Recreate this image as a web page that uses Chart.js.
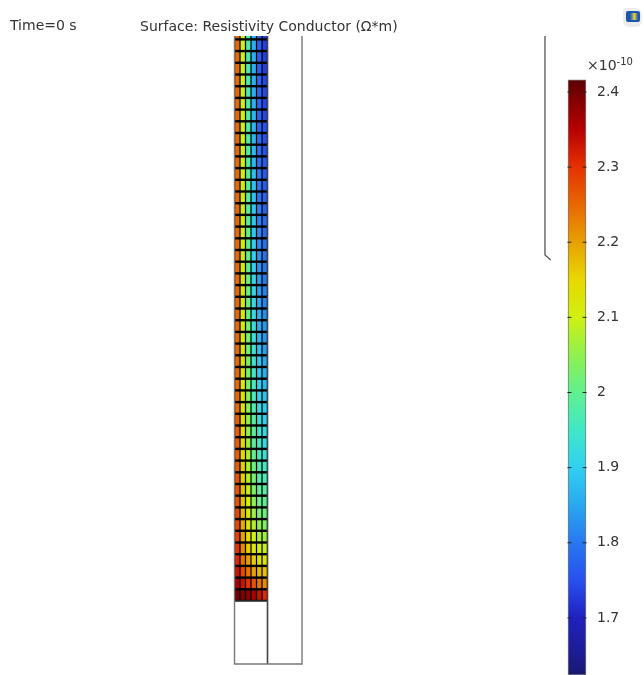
<!DOCTYPE html>
<html>
<head>
<meta charset="utf-8">
<title>Resistivity Conductor</title>
<script src="https://cdn.jsdelivr.net/npm/chart.js@4"></script>
<style>
  html, body { margin: 0; background: #fff; overflow: hidden; }
  #wrap { position: relative; width: 644px; height: 675px; overflow: hidden; }
  #plot { display: block; }
  .label { position: absolute; font: 14px "DejaVu Sans", sans-serif; color: #333; white-space: nowrap; line-height: 16px; }
  .label sup { font-size: 10px; line-height: 0; position: relative; vertical-align: baseline; top: -5px; }
  #logo { position: absolute; left: 623px; top: 8px; width: 19px; height: 19px; background: #ececec; border-radius: 3px 7px 6px 6px; }
  #logo div { position: absolute; left: 3px; top: 3px; width: 14px; height: 11px; border-radius: 2px; background: linear-gradient(90deg, #1c56b0 0 20%, #e4d23c 65%, #1c56b0 100%); border: 2px solid #1c56b0; box-sizing: border-box; }
</style>
</head>
<body>
<div id="wrap">
  <canvas id="plot" width="644" height="675"></canvas>
  <div class="label" style="left:10px;top:17px">Time=0 s</div>
  <div class="label" style="left:140px;top:18px">Surface: Resistivity Conductor (Ω*m)</div>
  <div class="label" style="left:587px;top:57px">×10<sup>-10</sup></div>
  <div id="logo"><div></div></div>
</div>
<script>
// resistivity of each conductor column (x1e-10 ohm m), bottom row first
const column1 = [2.40,2.36,2.33,2.31,2.30,2.29,2.28,2.28,2.27,2.27,
  2.27,2.26,2.26,2.26,2.26,2.26,2.25,2.25,2.25,2.25,
  2.25,2.25,2.25,2.25,2.25,2.25,2.25,2.25,2.25,2.25,
  2.25,2.25,2.25,2.25,2.25,2.25,2.25,2.25,2.25,2.25,
  2.25,2.25,2.25,2.25,2.25,2.25,2.25,2.25,2.25];
const column2 = [2.39,2.33,2.28,2.24,2.22,2.20,2.19,2.18,2.17,2.17,
  2.16,2.16,2.15,2.15,2.15,2.14,2.14,2.14,2.13,2.13,
  2.13,2.13,2.12,2.12,2.12,2.12,2.12,2.12,2.11,2.11,
  2.11,2.11,2.11,2.11,2.11,2.11,2.11,2.10,2.10,2.10,
  2.10,2.10,2.10,2.10,2.10,2.10,2.10,2.10,2.10];
const column3 = [2.38,2.30,2.24,2.20,2.16,2.14,2.12,2.11,2.10,2.09,
  2.08,2.07,2.07,2.06,2.05,2.05,2.04,2.04,2.03,2.03,
  2.03,2.02,2.02,2.02,2.01,2.01,2.01,2.01,2.00,2.00,
  2.00,2.00,1.99,1.99,1.99,1.99,1.99,1.98,1.98,1.98,
  1.98,1.98,1.98,1.97,1.97,1.97,1.97,1.97,1.97];
const column4 = [2.36,2.27,2.20,2.16,2.12,2.10,2.08,2.06,2.05,2.03,
  2.02,2.01,2.00,1.99,1.99,1.98,1.97,1.96,1.96,1.95,
  1.94,1.94,1.93,1.93,1.92,1.92,1.91,1.91,1.90,1.90,
  1.90,1.89,1.89,1.89,1.88,1.88,1.88,1.87,1.87,1.87,
  1.87,1.87,1.86,1.86,1.86,1.86,1.86,1.86,1.86];
const column5 = [2.33,2.24,2.18,2.13,2.10,2.07,2.05,2.03,2.01,2.00,
  1.98,1.97,1.96,1.95,1.94,1.93,1.92,1.91,1.90,1.89,
  1.89,1.88,1.87,1.86,1.86,1.85,1.84,1.84,1.83,1.83,
  1.82,1.82,1.81,1.81,1.80,1.80,1.80,1.79,1.79,1.79,
  1.78,1.78,1.78,1.78,1.78,1.77,1.77,1.77,1.77];
const column6 = [2.31,2.22,2.17,2.12,2.09,2.06,2.03,2.01,1.99,1.98,
  1.96,1.95,1.93,1.92,1.91,1.90,1.89,1.88,1.87,1.86,
  1.85,1.84,1.83,1.83,1.82,1.81,1.81,1.80,1.80,1.79,
  1.79,1.78,1.78,1.77,1.77,1.76,1.76,1.76,1.75,1.75,
  1.75,1.74,1.74,1.74,1.74,1.73,1.73,1.73,1.73];
const columns = [column1, column2, column3, column4, column5, column6];

// colour bar
const barTicks = [1.7, 1.8, 1.9, 2, 2.1, 2.2, 2.3, 2.4];
const barMin = 1.624, barMax = 2.416;
const stopValues = [1.624, 1.65, 1.70, 1.75, 1.80, 1.85, 1.90, 1.95, 2.00, 2.05, 2.10, 2.15, 2.20, 2.25, 2.30, 2.35, 2.40, 2.416];
const stopColors = ["#181870","#1c1c90","#2020c0","#2850f0","#2878f0","#28a8f0","#30d0f0","#40e8c8","#60f090","#90f050","#d0f010","#e8d800","#e8a000","#e86800","#e63200","#b80000","#740000","#5c0000"];

// geometry outlines, x in cell columns and y in cell rows from the top of the lower block
const leftWall = [{x:0,y:48.3},{x:0,y:-5.38},{x:12.27,y:-5.38},{x:12.27,y:48.3}];
const midWall = [{x:6,y:48.3},{x:6,y:-5.38}];
const blockTop = [{x:0,y:0},{x:6,y:0}];
const farWall = [{x:56.45,y:48.3},{x:56.45,y:29.57},{x:57.5,y:29.15}];

function hexToRgb(h) {
  return [1, 3, 5].map(i => parseInt(h.slice(i, i + 2), 16));
}

function valueColor(v) {
  let i = 0;
  while (i < stopValues.length - 2 && v > stopValues[i + 1]) i++;
  let t = (v - stopValues[i]) / (stopValues[i + 1] - stopValues[i]);
  t = Math.min(1, Math.max(0, t));
  let a = hexToRgb(stopColors[i]), b = hexToRgb(stopColors[i + 1]);
  let c = a.map((p, k) => Math.round(p + (b[k] - p) * t));
  return `rgb(${c[0]},${c[1]},${c[2]})`;
}

function barGradient(ctx) {
  let chart = ctx.chart;
  if (!chart.chartArea) return "#2878f0";
  let scale = chart.scales.yc;
  let g = chart.ctx.createLinearGradient(0, scale.getPixelForValue(barMin), 0, scale.getPixelForValue(barMax));
  stopValues.forEach((v, i) => g.addColorStop((v - barMin) / (barMax - barMin), stopColors[i]));
  return g;
}

function outline(points, color, width) {
  return { type: "line", data: points, borderColor: color, borderWidth: width, pointRadius: 0, fill: false, yAxisID: "y", order: 1 };
}

let datasets = [];

// black backing shows through as the mesh lines
datasets.push({ data: [{ x: 3, y: [0, 48.3] }], backgroundColor: "#000", barThickness: 33, yAxisID: "y", order: 3 });

columns.forEach((col, c) => {
  datasets.push({
    data: col.map((v, row) => ({ x: c + 0.5, y: [row + 0.13, row + 0.87], v: v })),
    backgroundColor: col.map(valueColor),
    barThickness: 3.6,
    yAxisID: "y",
    order: 2
  });
});

datasets.push(outline(leftWall, "#777", 1.4));
datasets.push(outline(midWall, "#444", 1.6));
datasets.push(outline(blockTop, "#333", 1.4));
datasets.push(outline(farWall, "#555", 1.3));

// colour bar with its small tick marks
datasets.push({
  data: [{ x: 62.27, y: [barMin, barMax] }],
  backgroundColor: barGradient,
  borderColor: "#777",
  borderWidth: 1,
  borderSkipped: false,
  barThickness: 18,
  yAxisID: "yc",
  order: 2
});
[60.9, 63.65].forEach(x => {
  datasets.push({
    type: "scatter",
    data: barTicks.map(v => ({ x: x, y: v })),
    pointStyle: "line",
    radius: 2,
    borderColor: "#222",
    borderWidth: 1,
    yAxisID: "yc",
    order: 0
  });
});

new Chart(document.getElementById("plot"), {
  type: "bar",
  data: { datasets: datasets },
  options: {
    responsive: false,
    animation: false,
    grouped: false,
    layout: { autoPadding: false, padding: { top: 36 } },
    plugins: { legend: { display: false }, tooltip: { enabled: false } },
    scales: {
      x: { type: "linear", display: false, min: -42.64, max: 64.09, offset: false, grid: { display: false } },
      y: { type: "linear", display: false, min: -6.325, max: 48.29, grid: { display: false } },
      yc: {
        type: "linear",
        position: "right",
        min: 1.624,
        max: 2.4745,
        border: { display: false },
        grid: { display: false, drawTicks: false },
        afterFit: s => {
          s.width = 57;
          // the default margins for tick labels would shrink the plot
          s.paddingTop = s.paddingBottom = s.paddingLeft = s.paddingRight = 0;
        },
        afterBuildTicks: s => { s.ticks = barTicks.map(v => ({ value: v })); },
        ticks: {
          padding: 10,
          color: "#333",
          font: { family: "DejaVu Sans", size: 14 },
          callback: v => String(v)
        }
      }
    }
  }
});
</script>
</body>
</html>
